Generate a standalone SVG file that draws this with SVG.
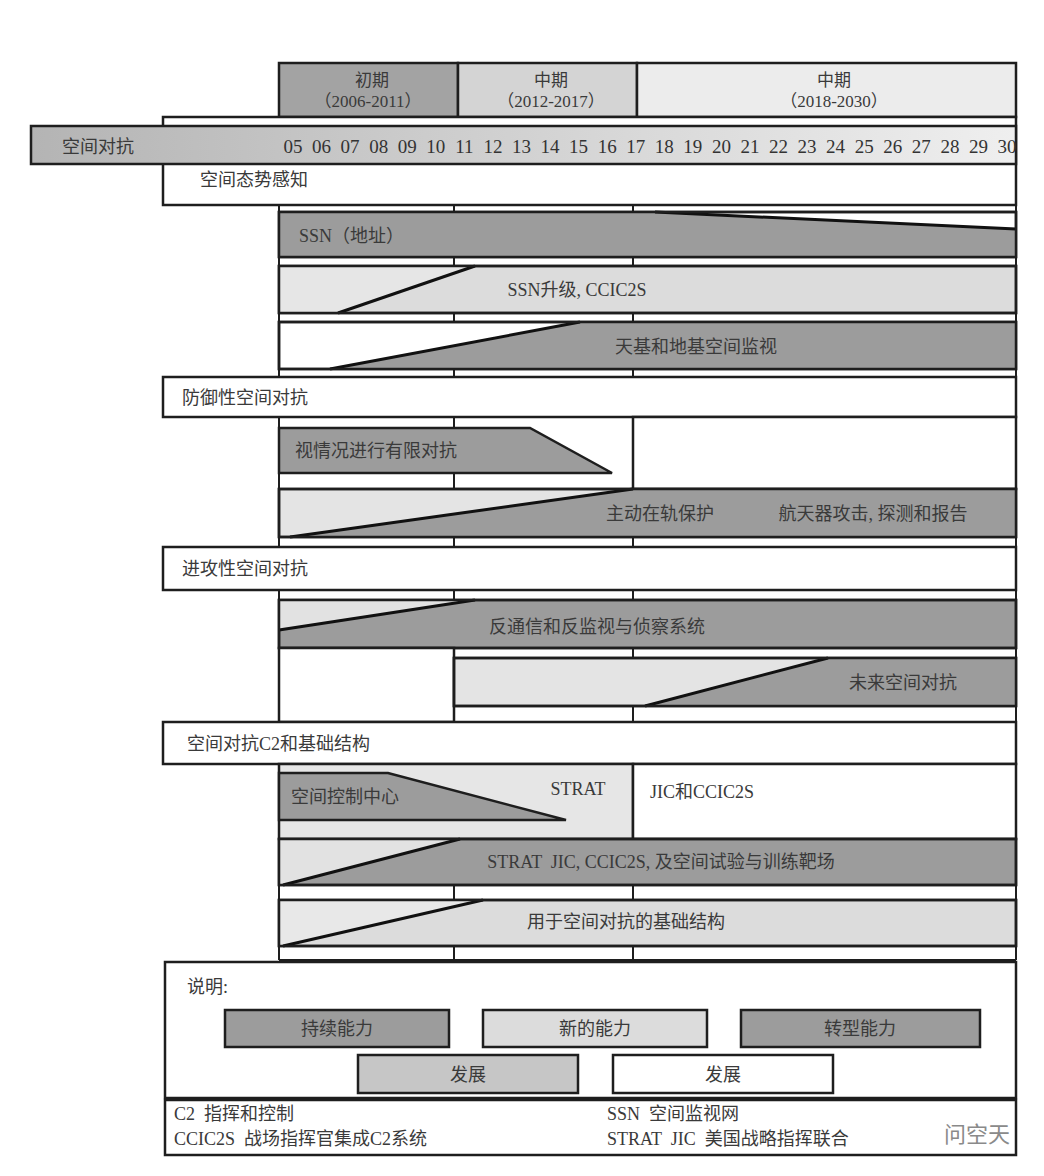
<svg xmlns="http://www.w3.org/2000/svg" width="1044" height="1176" viewBox="0 0 1044 1176">
<defs>
<linearGradient id="band" x1="0" y1="0" x2="1" y2="0">
<stop offset="0" stop-color="#b4b4b4"/>
<stop offset="0.45" stop-color="#cfcfcf"/>
<stop offset="1" stop-color="#efefef"/>
</linearGradient>
<style>
text{font-family:"Liberation Serif","Noto Sans CJK SC",serif;fill:#3a3a3a;font-size:18px;white-space:pre}
.c{text-anchor:middle}
.yr{font-size:19px;text-anchor:middle;fill:#333}
.box{stroke:#1e1e1e;stroke-width:2.5}
.w{fill:#fff}
.dk{fill:#9c9c9c}
.lt{fill:#dcdcdc}
.md{fill:#c6c6c6}
.ln{stroke:#1e1e1e;stroke-width:2;fill:none}
.dg{stroke:#111;stroke-width:3;fill:none}
</style>
</defs>
<rect width="1044" height="1176" fill="#fff"/>

<g id="period-headers">
<rect x="279" y="63" width="179" height="54" fill="#a3a3a3" class="box"/>
<rect x="458" y="63" width="179" height="54" fill="#d4d4d4" class="box"/>
<rect x="637" y="63" width="379" height="54" fill="#ececec" class="box"/>
<text x="372" y="86" class="c" style="font-size:17px">初期</text>
<text x="368" y="107" class="c" style="font-size:17px">（2006-2011）</text>
<text x="551" y="86" class="c" style="font-size:17px">中期</text>
<text x="551" y="107" class="c" style="font-size:17px">（2012-2017）</text>
<text x="834" y="86" class="c" style="font-size:17px">中期</text>
<text x="834" y="107" class="c" style="font-size:17px">（2018-2030）</text>
</g>

<g id="grid">
<rect x="163" y="117" width="853" height="88" class="box w"/>
<line x1="279" y1="205" x2="279" y2="960" class="ln"/>
<line x1="454" y1="205" x2="454" y2="960" class="ln"/>
<line x1="633" y1="205" x2="633" y2="960" class="ln"/>
<line x1="1016" y1="205" x2="1016" y2="960" class="ln"/>
</g>

<g id="timeline">
<rect x="31" y="126" width="985" height="38" fill="url(#band)" class="box"/>
<text x="62" y="153">空间对抗</text>
<text x="293" y="153" class="yr">05</text>
<text x="321.6" y="153" class="yr">06</text>
<text x="350.1" y="153" class="yr">07</text>
<text x="378.7" y="153" class="yr">08</text>
<text x="407.2" y="153" class="yr">09</text>
<text x="435.8" y="153" class="yr">10</text>
<text x="464.4" y="153" class="yr">11</text>
<text x="492.9" y="153" class="yr">12</text>
<text x="521.5" y="153" class="yr">13</text>
<text x="550" y="153" class="yr">14</text>
<text x="578.6" y="153" class="yr">15</text>
<text x="607.2" y="153" class="yr">16</text>
<text x="635.7" y="153" class="yr">17</text>
<text x="664.3" y="153" class="yr">18</text>
<text x="692.8" y="153" class="yr">19</text>
<text x="721.4" y="153" class="yr">20</text>
<text x="750" y="153" class="yr">21</text>
<text x="778.5" y="153" class="yr">22</text>
<text x="807.1" y="153" class="yr">23</text>
<text x="835.6" y="153" class="yr">24</text>
<text x="864.2" y="153" class="yr">25</text>
<text x="892.8" y="153" class="yr">26</text>
<text x="921.3" y="153" class="yr">27</text>
<text x="949.9" y="153" class="yr">28</text>
<text x="978.4" y="153" class="yr">29</text>
<text x="1007" y="153" class="yr">30</text>
</g>

<g id="sec-awareness">
<text x="200" y="186">空间态势感知</text>
</g>

<g id="row-ssn">
<rect x="279" y="212" width="737" height="45" class="box w"/>
<polygon points="279,212 655,212 1016,229 1016,257 279,257" class="dk"/>
<polyline points="655,212 1016,229" class="dg"/>
<rect x="279" y="212" width="737" height="45" class="box" fill="none"/>
<text x="299" y="242">SSN（地址）</text>
</g>

<g id="row-ssn-upgrade">
<rect x="279" y="266" width="737" height="47" class="box lt"/>
<polygon points="279,266 475,266 338,313 279,313" fill="#e6e6e6"/>
<line x1="338" y1="313" x2="475" y2="266" class="dg"/>
<rect x="279" y="266" width="737" height="47" class="box" fill="none"/>
<text x="577" y="296" class="c">SSN升级, CCIC2S</text>
</g>

<g id="row-space-ground">
<rect x="279" y="322" width="737" height="47" class="box w"/>
<polygon points="330,369 580,322 1016,322 1016,369" class="dk"/>
<line x1="330" y1="369" x2="580" y2="322" class="dg"/>
<rect x="279" y="322" width="737" height="47" class="box" fill="none"/>
<text x="696" y="353" class="c">天基和地基空间监视</text>
</g>

<g id="sec-defensive">
<rect x="163" y="377" width="853" height="40" class="box w"/>
<text x="182" y="404">防御性空间对抗</text>
</g>

<g id="row-limited">
<rect x="633" y="417" width="383" height="72" class="box w"/>
<polygon points="279,428 530,428 612,473 279,473" class="dk box"/>
<text x="295" y="457">视情况进行有限对抗</text>
</g>

<g id="row-active">
<rect x="279" y="489" width="737" height="48" class="box" fill="#e4e4e4"/>
<polygon points="290,537 633,489 1016,489 1016,537" class="dk"/>
<line x1="290" y1="537" x2="633" y2="489" class="dg"/>
<rect x="279" y="489" width="737" height="48" class="box" fill="none"/>
<text x="660" y="520" class="c">主动在轨保护</text>
<text x="873" y="520" class="c">航天器攻击, 探测和报告</text>
</g>

<g id="sec-offensive">
<rect x="163" y="547" width="853" height="43" class="box w"/>
<text x="182" y="575">进攻性空间对抗</text>
</g>

<g id="row-counter-comm">
<rect x="279" y="600" width="737" height="48" class="box dk"/>
<polygon points="279,600 475,600 279,630" fill="#e2e2e2"/>
<line x1="279" y1="630" x2="475" y2="600" class="dg"/>
<rect x="279" y="600" width="737" height="48" class="box" fill="none"/>
<text x="597" y="633" class="c">反通信和反监视与侦察系统</text>
</g>

<g id="row-future">
<rect x="279" y="648" width="175" height="74" class="box w"/>
<rect x="454" y="658" width="562" height="48" class="box" fill="#e4e4e4"/>
<polygon points="645,706 828,658 1016,658 1016,706" class="dk"/>
<line x1="645" y1="706" x2="828" y2="658" class="dg"/>
<rect x="454" y="658" width="562" height="48" class="box" fill="none"/>
<text x="903" y="689" class="c">未来空间对抗</text>
</g>

<g id="sec-c2">
<rect x="163" y="722" width="853" height="42" class="box w"/>
<text x="187" y="750">空间对抗C2和基础结构</text>
</g>

<g id="row-control-center">
<rect x="279" y="764" width="354" height="75" class="box" fill="#e6e6e6"/>
<rect x="633" y="764" width="383" height="75" class="box w"/>
<polygon points="279,773 388,773 566,820 279,820" class="dk box"/>
<text x="291" y="803">空间控制中心</text>
<text x="578" y="795" class="c">STRAT</text>
<text x="650" y="798">JIC和CCIC2S</text>
</g>

<g id="row-strat">
<rect x="279" y="839" width="737" height="46" class="box dk"/>
<polygon points="279,839 460,839 283,885 279,885" fill="#e2e2e2"/>
<line x1="283" y1="885" x2="460" y2="839" class="dg"/>
<rect x="279" y="839" width="737" height="46" class="box" fill="none"/>
<text x="661" y="868" class="c">STRAT  JIC, CCIC2S, 及空间试验与训练靶场</text>
</g>

<g id="row-infra">
<rect x="279" y="900" width="737" height="46" class="box lt"/>
<polygon points="279,900 483,900 283,946 279,946" fill="#e8e8e8"/>
<line x1="283" y1="946" x2="483" y2="900" class="dg"/>
<rect x="279" y="900" width="737" height="46" class="box" fill="none"/>
<text x="626" y="928" class="c">用于空间对抗的基础结构</text>
<line x1="279" y1="960" x2="1016" y2="960" class="ln"/>
</g>

<g id="legend">
<rect x="165" y="962" width="851" height="136" class="box w"/>
<text x="187" y="993">说明:</text>
<rect x="225" y="1010" width="224" height="37" class="box dk"/>
<text x="337" y="1035" class="c">持续能力</text>
<rect x="483" y="1010" width="224" height="37" class="box lt"/>
<text x="595" y="1035" class="c">新的能力</text>
<rect x="741" y="1010" width="239" height="37" class="box dk"/>
<text x="860" y="1035" class="c">转型能力</text>
<rect x="358" y="1055" width="220" height="38" class="box md"/>
<text x="468" y="1081" class="c">发展</text>
<rect x="613" y="1055" width="220" height="38" class="box w"/>
<text x="723" y="1081" class="c">发展</text>
</g>

<g id="abbreviations">
<rect x="165" y="1100" width="851" height="55" class="box w"/>
<text x="174" y="1120">C2  指挥和控制</text>
<text x="174" y="1145">CCIC2S  战场指挥官集成C2系统</text>
<text x="607" y="1120">SSN  空间监视网</text>
<text x="607" y="1145">STRAT  JIC  美国战略指挥联合</text>
<text x="977" y="1142" style="font-size:22px;font-family:'Noto Sans CJK SC',sans-serif;fill:#8a8a8a" class="c">问空天</text>
</g>
</svg>
